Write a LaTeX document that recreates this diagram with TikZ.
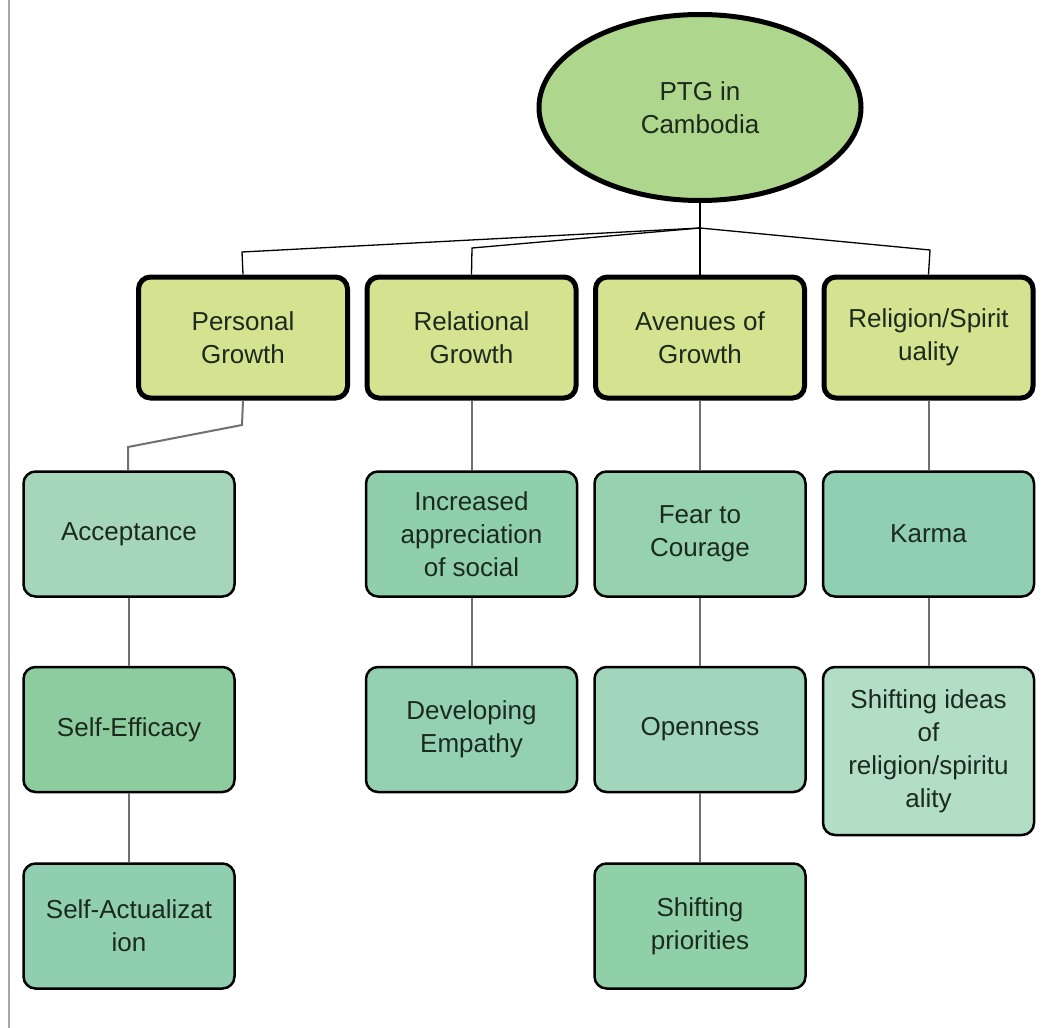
\documentclass[tikz,border=0pt]{standalone}
\usepackage{fontspec}
\setmainfont{Liberation Sans}
\usetikzlibrary{shapes.geometric}
\definecolor{rootfill}{HTML}{AED68C}
\definecolor{lvlone}{HTML}{D5E28F}
\definecolor{cAcc}{HTML}{A6D6B9}
\definecolor{cInc}{HTML}{8FCFAC}
\definecolor{cFear}{HTML}{96D2B0}
\definecolor{cKarma}{HTML}{90CFB1}
\definecolor{cSelfE}{HTML}{8DCC9E}
\definecolor{cDev}{HTML}{93D1B2}
\definecolor{cOpen}{HTML}{A1D6BC}
\definecolor{cShid}{HTML}{B2DEC6}
\definecolor{cSelfA}{HTML}{8FCFB0}
\definecolor{cShpr}{HTML}{8FD0A8}
\definecolor{txt}{HTML}{1C2A1E}
\definecolor{lnk}{HTML}{707070}
\tikzset{
  lbl/.style={font=\fontsize{26}{33}\selectfont, text=txt, align=center, inner sep=0pt},
  rootnode/.style={lbl, ellipse, draw=black, line width=5pt, fill=rootfill, minimum width=322pt, minimum height=186pt},
  topbox/.style={lbl, rectangle, rounded corners=12pt, draw=black, line width=5pt, fill=lvlone, minimum width=209pt, minimum height=121pt},
  subbox/.style={lbl, rectangle, rounded corners=12pt, draw=black, line width=2.5pt, minimum width=211pt, minimum height=125pt},
  toplink/.style={draw=black, line width=1.3pt},
  sublink/.style={draw=lnk, line width=2pt}
}
\begin{document}
\begin{tikzpicture}[x=1pt,y=-1pt]
\useasboundingbox (0,0) rectangle (1058,1028);
\fill[white] (0,0) rectangle (1058,1028);
\draw[color=gray!70, line width=2pt] (9,0) -- (9,1028);

\node[rootnode] (root) at (700,107.5) {PTG in\\Cambodia};

\node[topbox] (pg) at (243,337.5) {Personal\\Growth};
\node[topbox] (rg) at (471.5,337.5) {Relational\\Growth};
\node[topbox] (ag) at (700,337.5) {Avenues of\\Growth};
\node[topbox] (rs) at (928.5,337.5) {Religion/Spirit\\uality};

\node[subbox, fill=cAcc] (acc) at (129,534) {Acceptance};
\node[subbox, fill=cInc] (inc) at (471.5,534) {Increased\\appreciation\\of social};
\node[subbox, fill=cFear] (fear) at (700,534) {Fear to\\Courage};
\node[subbox, fill=cKarma] (karma) at (928.5,534) {Karma};

\node[subbox, fill=cSelfE] (se) at (129,729.5) {Self-Efficacy};
\node[subbox, fill=cDev] (dev) at (471.5,729.5) {Developing\\Empathy};
\node[subbox, fill=cOpen] (open) at (700,729.5) {Openness};
\node[subbox, fill=cShid, minimum height=168pt] (shid) at (928.5,751) {Shifting ideas\\of\\religion/spiritu\\ality};

\node[subbox, fill=cSelfA] (sa) at (129,926) {Self-Actualizat\\ion};
\node[subbox, fill=cShpr] (shp) at (700,926) {Shifting\\priorities};

\coordinate (hub) at (700,228);
\coordinate (kpg) at (242,252);
\coordinate (krg) at (472,248);
\coordinate (krs) at (930,250);
\coordinate (pgdown) at (242,425);
\coordinate (accup) at (128,447);

\draw[toplink] (root.south) -- (hub);
\draw[toplink] (hub) -- (kpg) -- (pg.north);
\draw[toplink] (hub) -- (krg) -- (rg.north);
\draw[toplink] (hub) -- (ag.north);
\draw[toplink] (hub) -- (krs) -- (rs.north);

\draw[sublink] (pg.south) -- (pgdown) -- (accup) -- (accup |- acc.north);
\draw[sublink] (rg.south) -- (inc.north);
\draw[sublink] (ag.south) -- (fear.north);
\draw[sublink] (rs.south) -- (karma.north);
\draw[sublink] (acc.south) -- (se.north);
\draw[sublink] (se.south) -- (sa.north);
\draw[sublink] (inc.south) -- (dev.north);
\draw[sublink] (fear.south) -- (open.north);
\draw[sublink] (open.south) -- (shp.north);
\draw[sublink] (karma.south) -- (shid.north);
\end{tikzpicture}
\end{document}
